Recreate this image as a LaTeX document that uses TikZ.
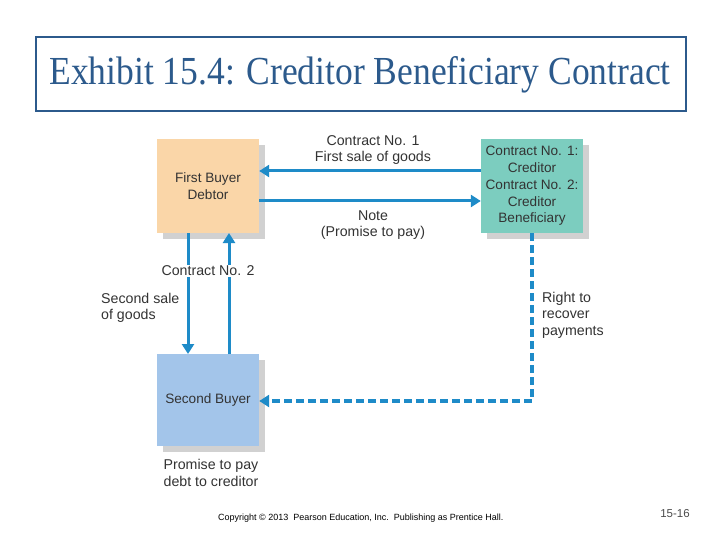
\documentclass[tikz,border=0pt]{standalone}
\usepackage{fontspec}
\setmainfont{Liberation Sans}
\newfontfamily\titlefont{Liberation Serif}
\usetikzlibrary{arrows.meta}
\definecolor{arrowblue}{HTML}{1E8BC8}
\definecolor{peach}{HTML}{FAD6A8}
\definecolor{teal}{HTML}{7CCDBF}
\definecolor{lightblue}{HTML}{A3C5EA}
\definecolor{titleblue}{HTML}{2C5A8C}
\definecolor{txt}{HTML}{333333}
\tikzset{
  partybox/.style={minimum width=102pt, minimum height=94pt, inner sep=0pt, align=center, text=txt, font=\fontsize{13.6}{16.8}\selectfont},
  shadowbox/.style={fill=black!18},
  lbl/.style={text=txt, font=\fontsize{14.2}{16.5}\selectfont, inner sep=1pt},
  flow/.style={draw=arrowblue, line width=3pt, -{Triangle[length=10pt,width=12pt]}},
  dflow/.style={draw=arrowblue, line width=3.5pt, dash pattern=on 8pt off 4pt, -{Triangle[length=10pt,width=12pt]}}
}
\begin{document}
\begin{tikzpicture}[x=1pt,y=-1pt]
\useasboundingbox (0,0) rectangle (720,540);
\fill[white] (0,0) rectangle (720,540);
% title
\node[draw=titleblue, line width=2.5pt, minimum width=650pt, minimum height=74pt, inner sep=0pt] (title) at (361,74) {};
\node[text=titleblue, font=\titlefont\fontsize{35.5}{40}\selectfont] (titletext) at (360,75) {\scalebox{1}[1.12]{Exhibit 15.4: Creditor Beneficiary Contract}};
% shadows
\fill[shadowbox] (163,145) rectangle (265,239);
\fill[shadowbox] (487,145) rectangle (589,239);
\fill[shadowbox] (163,360) rectangle (265,452);
% boxes
\node[partybox, fill=peach] (fb) at (208,186) {First Buyer\\Debtor};
\node[partybox, fill=teal] (cr) at (532,186) {Contract No. 1:\\Creditor\\Contract No. 2:\\Creditor\\Beneficiary};
\node[partybox, fill=lightblue, minimum height=92pt] (sb) at (208,400) {Second Buyer};
% horizontal arrows
\draw[flow] (cr.west |- 0,171) -- (fb.east |- 0,171);
\draw[flow] (fb.east |- 0,201) -- (cr.west |- 0,201);
\node[lbl, align=center] (c1) at (373,150) {Contract No. 1\\First sale of goods};
\node[lbl, align=center] (note) at (373,225) {Note\\(Promise to pay)};
% vertical arrows
\draw[flow] (188,233) -- (188,354);
\draw[flow] (229,354) -- (229,233);
\node[lbl, fill=white, inner sep=0.5pt] (c2) at (208,271) {Contract No. 2};
\node[lbl, align=left, anchor=west] (ss) at (100,308) {Second sale\\of goods};
% dashed
\coordinate (bend) at (532,401);
\draw[dflow] (cr.south) -- (bend) -- (sb.east |- bend);
\node[lbl, align=left, anchor=west] (rt) at (541,315) {Right to\\recover\\payments};
\node[lbl, align=center] (pp) at (211,473) {Promise to pay\\debt to creditor};
% footer
\node[text=black, font=\fontsize{9}{10}\selectfont, anchor=west, inner sep=0pt] (copy) at (218,518) {Copyright \textcopyright\ 2013\ \ Pearson Education, Inc.\ \ Publishing as Prentice Hall.};
\node[text=black!70, font=\fontsize{11.5}{13}\selectfont, inner sep=0pt] (pg) at (675,514) {15-16};
\end{tikzpicture}
\end{document}
